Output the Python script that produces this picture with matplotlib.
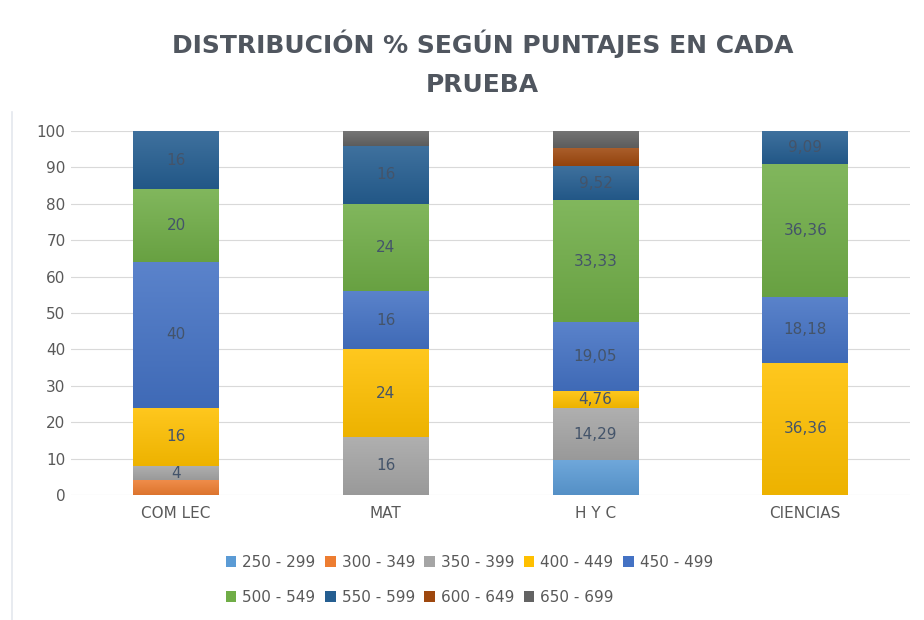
import matplotlib.pyplot as plt
import matplotlib.colors as mcolors
import numpy as np

pruebas = ["COM LEC", "MAT", "H Y C", "CIENCIAS"]
rangos = ["250 - 299", "300 - 349", "350 - 399", "400 - 449", "450 - 499",
          "500 - 549", "550 - 599", "600 - 649", "650 - 699"]

r250 = [0, 0, 9.52, 0]
r300 = [4, 0, 0, 0]
r350 = [4, 16, 14.29, 0]
r400 = [16, 24, 4.76, 36.36]
r450 = [40, 16, 19.05, 18.18]
r500 = [20, 24, 33.33, 36.36]
r550 = [16, 16, 9.52, 9.09]
r600 = [0, 0, 4.76, 0]
r650 = [0, 4, 4.76, 0]
series = [r250, r300, r350, r400, r450, r500, r550, r600, r650]

# which series carry data labels in the original
etiquetados = [False, False, True, True, True, True, True, False, False]

colores = ["#5B9BD5", "#ED7D31", "#A5A5A5", "#FFC000", "#4472C4",
           "#70AD47", "#255E91", "#9E480E", "#636363"]

texto = "#595959"

fig = plt.figure(figsize=(9.24, 6.2), dpi=100)
ax = fig.add_axes([0.077, 0.2016, 0.908, 0.587])

x = np.arange(len(pruebas))
ancho = 0.41
base = np.zeros(len(pruebas))


def degradado(ax, rect, color):
    # excel-like vertical gradient, lighter on top
    c = np.array(mcolors.to_rgb(color))
    claro = c + (1 - c) * 0.12
    oscuro = c * 0.93
    t = np.linspace(0, 1, 64)[:, None]
    grad = oscuro * (1 - t[..., None]) + claro * t[..., None]
    x0, y0 = rect.get_x(), rect.get_y()
    w, h = rect.get_width(), rect.get_height()
    if h <= 0:
        return
    im = ax.imshow(grad, extent=(x0, x0 + w, y0, y0 + h), origin="lower",
                   aspect="auto", zorder=3, interpolation="bilinear")
    im.set_clip_path(rect)


handles = []
for vals, col, lab, etq in zip(series, colores, rangos, etiquetados):
    bars = ax.bar(x, vals, ancho, bottom=base, color=col, label=lab,
                  zorder=2, linewidth=0)
    handles.append(bars)
    for rect in bars:
        degradado(ax, rect, col)
    if etq:
        for xi, v, b in zip(x, vals, base):
            if v > 0:
                txt = ("%g" % v).replace(".", ",")
                ax.text(xi, b + v / 2, txt, ha="center", va="center",
                        fontsize=11, color="#44546A", zorder=5)
    base = base + np.array(vals)

ax.set_xlim(-0.5, len(pruebas) - 0.5)
ax.set_ylim(0, 100)
ax.set_yticks(range(0, 101, 10))
ax.set_xticks(x)
ax.set_xticklabels(pruebas)
ax.tick_params(axis="both", length=0, labelsize=11, colors=texto, pad=8)
ax.tick_params(axis="y", pad=4)
ax.grid(axis="y", color="#D9D9D9", linewidth=0.8, zorder=0)
for s in ax.spines.values():
    s.set_visible(False)

fig.suptitle("DISTRIBUCIÓN % SEGÚN PUNTAJES EN CADA\nPRUEBA", x=0.522, y=0.952,
             fontsize=18, fontweight="bold", color="#50565F", linespacing=1.75)

# legend in two rows, filled row by row
orden = [0, 5, 1, 6, 2, 7, 3, 8, 4]
leg = fig.legend([handles[i] for i in orden], [rangos[i] for i in orden],
                 loc="center", bbox_to_anchor=(0.508, 0.065), ncol=5,
                 frameon=False, fontsize=11, handlelength=0.7,
                 handleheight=0.7, handletextpad=0.4, columnspacing=0.6,
                 labelspacing=1.3)
for t in leg.get_texts():
    t.set_color(texto)

fig.add_artist(plt.Line2D([0.013, 0.013], [0.0, 0.82], color="#E4E8EE",
                          linewidth=1.2))

fig.savefig("out.png", dpi=100)
